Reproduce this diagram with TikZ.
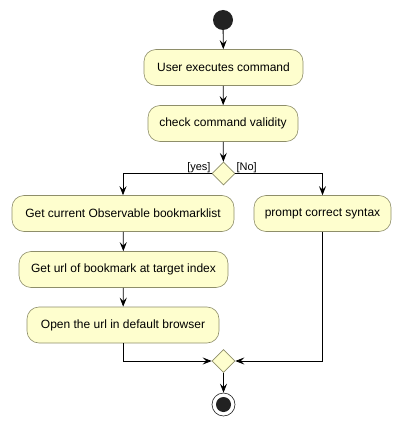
\documentclass[tikz,border=0pt]{standalone}
\usepackage{fontspec}
\setmainfont{Liberation Sans}
\usepackage{tikz}
\usetikzlibrary{arrows.meta,shapes.geometric,calc}

\definecolor{actfill}{HTML}{FEFECE}
\definecolor{actline}{HTML}{8E8E6A}
\definecolor{dotcol}{HTML}{222222}

\begin{document}
\begin{tikzpicture}[
			x = 1pt, y = -1pt,
			every node/.style = {font = \fontsize{12}{14}\selectfont},
			act/.style = {draw = actline, fill = actfill, rounded corners = 12pt,
				minimum height = 36pt, inner sep = 0pt, line width = 0.6pt},
			choice/.style = {draw = actline, fill = actfill, diamond, inner sep = 0pt,
				minimum width = 23pt, minimum height = 23pt, line width = 0.6pt},
			flow/.style = {-{Stealth[length = 9pt, width = 7pt, inset = 3.5pt]}, line width = 0.8pt},
			guard/.style = {font = \fontsize{11}{12}\selectfont, inner sep = 1pt}
			]

			\useasboundingbox (0,0) rectangle (403,425);

			% start and the first two actions
			\node[circle, fill = dotcol, minimum size = 20pt, inner sep = 0pt] (start) at (223,20) {};
			\node[act, minimum width = 159pt] (execute) at (223.5,67.5) {User executes command};
			\node[act, minimum width = 150pt] (validity) at (223,123.5) {check command validity};
			\node[choice] (split) at (223.5,173.5) {};

			% the two branches
			\node[act, minimum width = 222pt] (getlist) at (123,213.5) {Get current Observable bookmarklist};
			\node[act, minimum width = 137pt] (prompt) at (322.5,213.5) {prompt correct syntax};
			\node[act, minimum width = 209pt] (geturl) at (123.5,269.5) {Get url of bookmark at target index};
			\node[act, minimum width = 192pt] (openurl) at (123,325) {Open the url in default browser};

			\node[choice] (merge) at (223.5,361) {};
			\node[circle, draw = dotcol, fill = white, minimum size = 23pt, inner sep = 0pt, line width = 0.6pt] (stop) at (223.5,404.5) {};
			\node[circle, fill = dotcol, minimum size = 15pt, inner sep = 0pt] (stopdot) at (stop) {};

			\draw[flow] (start) -- (execute);
			\draw[flow] (execute) -- (validity);
			\draw[flow] (validity) -- (split);
			\draw[flow] (split.west) -| (getlist.north);
			\draw[flow] (split.east) -| (prompt.north);
			\node[guard, anchor = south east] (yes) at (split.west) {[yes]};
			\node[guard, anchor = south west] (no) at (split.east) {[No]};

			\draw[flow] (getlist) -- (geturl);
			\draw[flow] (geturl) -- (openurl);
			\draw[flow] (openurl.south) |- (merge.west);
			\draw[flow] (prompt.south) |- (merge.east);
			\draw[flow] (merge) -- (stop);

		\end{tikzpicture}
\end{document}
